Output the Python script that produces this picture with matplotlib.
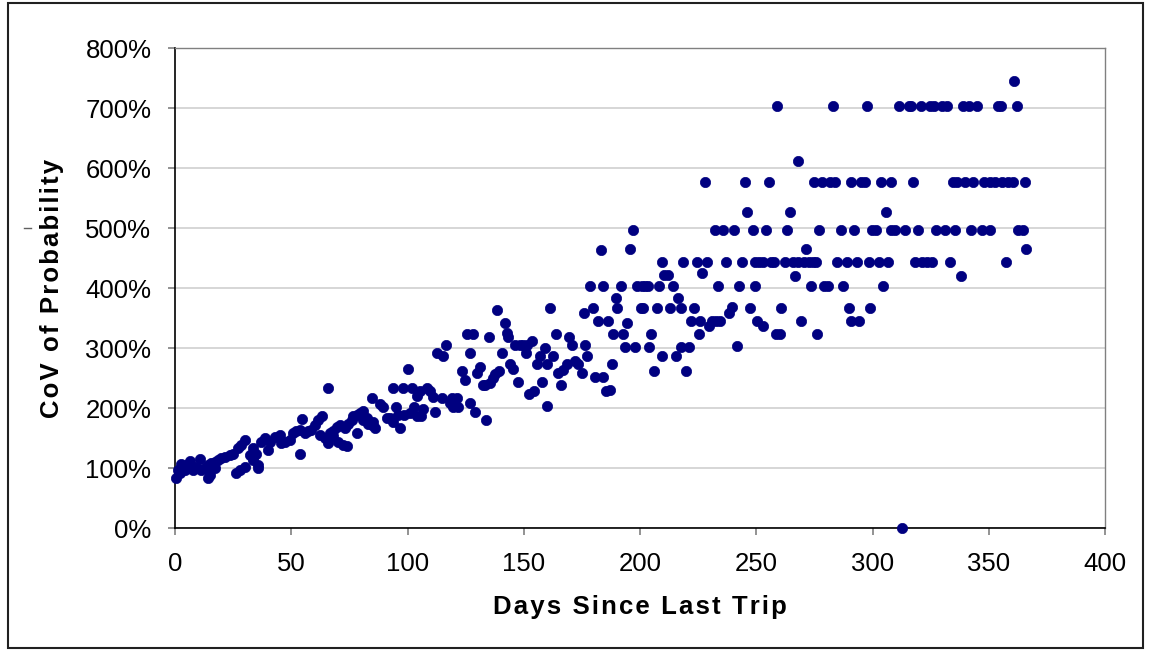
import matplotlib
matplotlib.use("Agg")
import matplotlib.pyplot as plt
from matplotlib.patches import Rectangle
from matplotlib.lines import Line2D
from matplotlib.ticker import FuncFormatter

plt.rcParams['font.family'] = ['Liberation Sans', 'DejaVu Sans']

# Days since last trip (x) and CoV of probability in percent (y)
days_a = [0.6, 1.3, 2.0, 2.7, 3.4, 4.2, 4.9, 6.3, 7.7, 9.2, 10.6, 11.3, 12.8, 14.2, 14.2, 14.9,
          15.6, 17.1, 17.1, 18.5, 19.9, 21.4, 23.5, 24.9, 26.4, 27.1, 27.8, 28.5, 30.0, 30.2,
          32.1, 33.5, 33.5, 35.0, 35.7, 35.9, 37.1, 38.6, 40.0, 40.7, 42.9, 45.0, 45.7, 47.2,
          49.3, 50.8, 52.2, 53.6, 53.6, 54.6, 55.8, 57.2, 58.6, 60.1, 61.5, 62.2, 63.2, 64.4, 65.6]
cov_a = [83, 97, 91, 107, 102, 97, 105, 111, 97, 102, 115, 97, 100, 105, 83, 88,
         109, 110, 100, 113, 116, 118, 122, 124, 91, 133, 97, 138, 102, 146,
         122, 133, 113, 124, 105, 100, 144, 150, 130, 144, 152, 155, 141, 144,
         147, 158, 161, 163, 123, 181, 158, 161, 163, 172, 180, 155, 187, 150, 234]

days_b = [65.9, 66.7, 68.1, 68.1, 69.5, 70.2, 71.0, 72.4, 73.1, 73.8, 74.5, 76.0, 76.7, 78.2,
          78.2, 79.6, 81.0, 81.0, 82.4, 83.1, 84.6, 84.6, 85.3, 85.9, 88.2, 89.6, 91.0, 92.5,
          93.6, 93.9, 95.1, 96.0, 96.8, 98.2, 98.4, 100.4, 101.1, 101.8, 102.9, 103.9, 104.1,
          105.4, 105.6, 106.8, 108.3, 109.7, 111.1, 111.8, 112.8, 114.7, 115.4, 116.6, 118.3,
          119.0, 119.7, 121.2, 121.8, 123.4, 124.7, 125.5]
cov_b = [141, 158, 161, 153, 169, 144, 172, 138, 166, 136, 174, 180, 186, 188,
         159, 191, 195, 180, 183, 174, 216, 172, 177, 166, 207, 202, 183, 183,
         234, 177, 202, 188, 167, 234, 188, 265, 191, 234, 202, 220, 186,
         228, 186, 199, 234, 228, 219, 194, 291, 216, 286, 305, 208,
         216, 202, 216, 202, 262, 247, 323]

days_c = [126.9, 126.9, 128.3, 129.0, 130.0, 131.2, 132.3, 133.3, 133.8, 134.9, 135.5, 136.6,
          137.6, 138.4, 139.4, 140.6, 141.8, 142.6, 143.1, 144.1, 145.2, 146.4, 147.7, 148.4,
          149.8, 151.0, 151.3, 152.1, 153.4, 154.4, 155.6, 157.0, 157.7, 159.1, 160.1, 160.1,
          161.3, 162.5, 163.7, 164.9, 165.9, 167.0, 168.5, 169.5, 170.6, 172.0, 173.5, 175.1,
          176.0, 176.3, 177.3, 178.5, 179.6, 180.8, 182.1, 183.1, 184.2, 184.2, 185.4, 186.4,
          187.0, 187.8, 188.5, 189.5, 190.1, 191.8, 192.6, 193.4, 194.6, 195.7, 196.8, 198.0,
          198.8, 200.3, 200.7, 201.4, 202.2, 203.6, 203.7, 204.9, 206.2, 207.2, 208.3, 209.6,
          209.6, 210.5, 211.9, 212.9, 214.1, 215.4, 216.5, 217.5, 217.5, 218.6, 219.9, 221.2,
          222.0, 223.2, 224.4, 225.7, 225.5, 226.8, 228.0, 229.0, 229.8, 231.0, 232.3, 232.7,
          233.5, 234.6, 235.8, 237.0, 238.3, 239.4, 240.4, 241.6, 242.7, 244.0, 245.0, 246.2,
          247.3, 248.5, 249.5, 249.6, 250.5, 251.3, 252.7, 253.0, 254.2, 255.4, 256.3, 257.7,
          258.5, 258.8, 260.2, 260.8]
cov_c = [291, 208, 323, 194, 259, 269, 238, 238, 180, 318, 241, 250,
         256, 363, 261, 291, 341, 325, 318, 273, 265, 305, 243, 305,
         305, 292, 305, 224, 312, 229, 273, 287, 243, 300, 273, 203,
         367, 287, 323, 259, 238, 263, 273, 318, 305, 279, 273, 259,
         358, 305, 287, 403, 367, 252, 345, 464, 403, 252, 229, 345,
         230, 274, 323, 384, 367, 403, 323, 301, 341, 465, 496, 301,
         403, 367, 403, 367, 403, 403, 301, 323, 261, 367, 403, 443,
         287, 422, 422, 367, 403, 287, 384, 367, 301, 443, 261, 301,
         345, 367, 443, 345, 323, 425, 576, 443, 336, 345, 496, 345,
         403, 345, 496, 443, 359, 368, 496, 304, 403, 443, 576, 527,
         367, 496, 443, 403, 345, 443, 443, 336, 496, 576, 443, 443,
         323, 703, 323, 367]

days_d = [262.2, 263.4, 264.5, 265.9, 266.8, 268.0, 268.1, 269.1, 270.4, 271.4, 272.6, 273.7,
          274.5, 274.8, 275.5, 276.0, 277.1, 278.4, 279.1, 281.0, 281.7, 282.9, 283.9, 284.8,
          286.3, 287.4, 288.9, 289.8, 290.8, 290.9, 292.2, 293.2, 294.3, 295.1, 296.8, 297.8,
          298.6, 298.9, 299.9, 301.5, 302.7, 303.5, 304.6, 305.8, 306.8, 308.1, 308.1, 309.7,
          311.5, 312.7, 313.8, 315.6, 316.6, 317.3, 318.3, 319.6, 320.7, 321.5, 323.5, 324.6,
          325.5, 326.3, 327.3, 329.8, 331.2, 332.2, 333.3, 334.5, 335.6, 336.5, 337.9, 339.0,
          339.8, 341.5, 342.4, 343.4, 344.8, 347.0, 348.0, 350.5, 350.7, 352.7, 353.8, 355.1,
          355.6, 357.4, 358.4, 360.3, 360.9, 362.0, 362.7, 364.8, 365.6, 366.0]
cov_d = [443, 496, 527, 443, 420, 612, 443, 345, 443, 465, 443, 403,
         443, 576, 443, 323, 496, 576, 403, 403, 576, 703, 576, 443,
         496, 403, 443, 367, 345, 576, 496, 443, 345, 576, 576, 703,
         443, 367, 496, 496, 443, 576, 403, 527, 443, 576, 496, 496,
         703, 0, 496, 703, 703, 576, 443, 496, 703, 443, 443, 703,
         443, 703, 496, 703, 496, 703, 443, 576, 496, 576, 420, 703,
         576, 703, 496, 576, 703, 496, 576, 576, 496, 576, 703, 703,
         576, 443, 576, 576, 745, 703, 496, 496, 576, 465]

days = days_a + days_b + days_c + days_d
cov = cov_a + cov_b + cov_c + cov_d

x_ticks = [0, 50, 100, 150, 200, 250, 300, 350, 400]
y_ticks = [0, 100, 200, 300, 400, 500, 600, 700, 800]
x_title = 'Days Since Last Trip'
y_title = 'CoV of Probability'

W, H = 1150, 651
fig = plt.figure(figsize=(W / 100, H / 100), dpi=100)
ax = fig.add_axes([175 / W, (H - 528) / H, (1105 - 175) / W, (528 - 48) / H])

ax.scatter(days, cov, s=55, color='#000080', edgecolors='#000080', linewidths=0.5,
           zorder=3, clip_on=False)

ax.set_xlim(0, 400)
ax.set_ylim(0, 800)
ax.set_xticks(x_ticks)
ax.set_yticks(y_ticks)
ax.yaxis.set_major_formatter(FuncFormatter(lambda v, p: f"{v:.0f}%"))
ax.grid(axis='y', color='#d0d0d0', linewidth=1.2, zorder=0)
ax.set_axisbelow(True)

for side in ['left', 'bottom']:
    ax.spines[side].set_color('black')
    ax.spines[side].set_linewidth(1.2)
for side in ['top', 'right']:
    ax.spines[side].set_color('#808080')
    ax.spines[side].set_linewidth(1.0)

ax.tick_params(axis='both', direction='out', length=5, width=1.2, color='#808080',
               labelsize=18.5, pad=12, labelcolor='black')

hair = '\u200a'
ax.set_xlabel(hair.join(x_title), fontsize=18.5, fontweight='bold',
              family=['Liberation Sans', 'DejaVu Sans'])
ax.set_ylabel(hair.join(y_title), fontsize=18.5, fontweight='bold',
              family=['Liberation Sans', 'DejaVu Sans'])
ax.xaxis.set_label_coords(0.5, -(607 - 528) / 480)
ax.xaxis.label.set_va('center')
ax.yaxis.set_label_coords(-(175 - 52) / 930, (528 - 288) / 480)
ax.yaxis.label.set_va('center')

# outer chart frame
fig.add_artist(Rectangle((8 / W, 3 / H), (1143 - 8) / W, (648 - 3) / H,
                         transform=fig.transFigure, fill=False,
                         edgecolor='#202020', linewidth=1.5))
# small stray dash left of the y label
fig.add_artist(Line2D([24 / W, 31 / W], [(H - 228) / H, (H - 228) / H],
                      transform=fig.transFigure, color='#606060', linewidth=1))

fig.savefig('out.png', dpi=100)
